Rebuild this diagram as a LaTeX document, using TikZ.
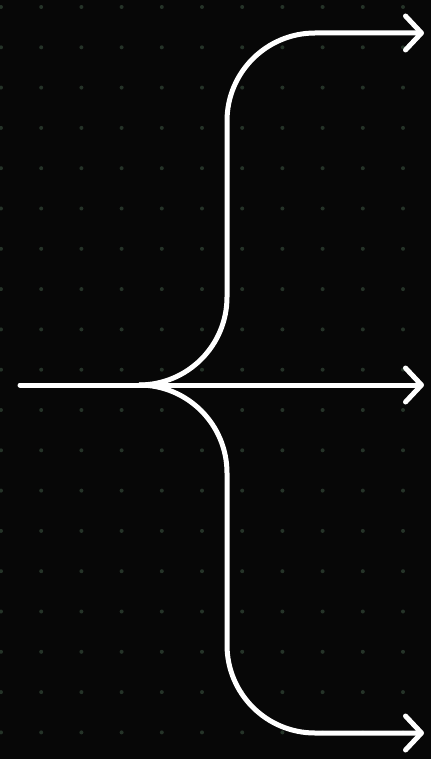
\documentclass[tikz,border=0pt]{standalone}
\usetikzlibrary{arrows.meta}
\usetikzlibrary{positioning}

\definecolor{bgblack}{HTML}{070707}
\definecolor{dotgreen}{HTML}{253328}

\tikzset{
  branch/.style={draw=white, line width=5pt, line cap=round,
    -{Straight Barb[length=16pt,width=34pt,round]}},
}

\begin{document}
\begin{tikzpicture}[x=1pt, y=-1pt]

\fill[bgblack] (0,0) rectangle (431,759);
\useasboundingbox (0,0) rectangle (431,759);
\foreach \i in {0,...,10}
    \foreach \j in {0,...,18}
        \fill[dotgreen] (1+40.2*\i, 7+40.3*\j) circle (2);

\coordinate (start) at (20,385);
\coordinate (split) at (140,385);
\coordinate (upbend) at (227,33);
\coordinate (lowbend) at (227,733);
\coordinate (uptip) at (424,33);
\coordinate (midtip) at (424,385);
\coordinate (lowtip) at (424,733);

\draw[branch] (start) -- (midtip);
\draw[branch, rounded corners=88pt] (split) -| (upbend) -- (uptip);
\draw[branch, rounded corners=88pt] (split) -| (lowbend) -- (lowtip);
\end{tikzpicture}
\end{document}
